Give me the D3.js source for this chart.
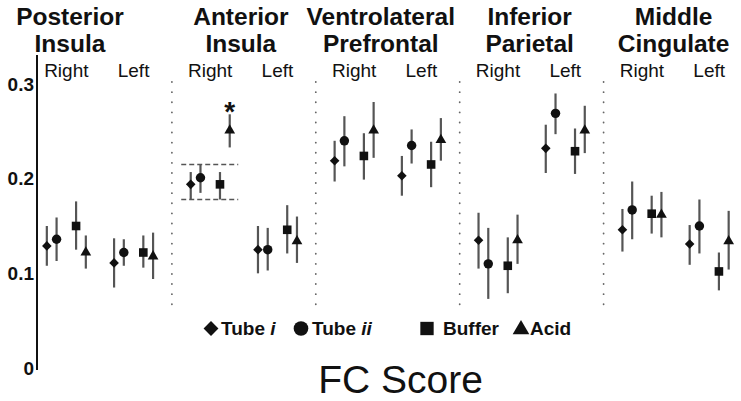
<!DOCTYPE html>
<html><head><meta charset="utf-8">
<script src="https://cdn.jsdelivr.net/npm/d3@7"></script>
<style>
html,body{margin:0;padding:0;background:#fff;}
svg{display:block;font-family:"Liberation Sans",Arial,sans-serif;}
</style></head>
<body><svg id="c" width="741" height="401"></svg>
<script>
// ---------- data ----------
const regions = ["Posterior Insula","Anterior Insula","Ventrolateral Prefrontal","Inferior Parietal","Middle Cingulate"];
const sides = ["Right","Left"];
const seriesNames = ["Tube i","Tube ii","Buffer","Acid"];
const yTicks = [0, 0.1, 0.2, 0.3];
const yTickLabels = ["0","0.1","0.2","0.3"];
// values ordered region-by-region: [Right, Left]
const tubeI    = [0.129,0.111, 0.194,0.125, 0.219,0.203, 0.135,0.232, 0.146,0.131];
const tubeILo  = [0.108,0.085, 0.178,0.100, 0.197,0.182, 0.105,0.206, 0.123,0.109];
const tubeIHi  = [0.150,0.137, 0.207,0.150, 0.240,0.224, 0.164,0.257, 0.168,0.151];
const tubeII   = [0.136,0.122, 0.201,0.125, 0.240,0.235, 0.110,0.269, 0.167,0.150];
const tubeIILo = [0.113,0.108, 0.185,0.103, 0.213,0.216, 0.073,0.247, 0.136,0.121];
const tubeIIHi = [0.159,0.136, 0.215,0.148, 0.266,0.252, 0.148,0.290, 0.197,0.178];
const buffer   = [0.150,0.122, 0.194,0.146, 0.224,0.215, 0.108,0.229, 0.163,0.102];
const bufferLo = [0.125,0.106, 0.178,0.121, 0.199,0.191, 0.079,0.205, 0.142,0.082];
const bufferHi = [0.176,0.140, 0.207,0.172, 0.248,0.239, 0.138,0.253, 0.182,0.122];
const acid     = [0.122,0.118, 0.251,0.134, 0.251,0.241, 0.135,0.251, 0.162,0.134];
const acidLo   = [0.105,0.094, 0.233,0.111, 0.222,0.219, 0.110,0.227, 0.138,0.104];
const acidHi   = [0.140,0.143, 0.268,0.160, 0.281,0.264, 0.162,0.277, 0.186,0.166];
const anteriorBand = [0.178, 0.215];   // dashed reference lines, Anterior Insula / Right
const significant = [{region:"Anterior Insula", side:"Right", series:"Acid"}];
const yTitle = "FC Score";

// ---------- build rows ----------
const seriesData = [
  {name:"Tube i",  mean:tubeI,  lo:tubeILo,  hi:tubeIHi,  shape:"diamond"},
  {name:"Tube ii", mean:tubeII, lo:tubeIILo, hi:tubeIIHi, shape:"circle"},
  {name:"Buffer",  mean:buffer, lo:bufferLo, hi:bufferHi, shape:"square"},
  {name:"Acid",    mean:acid,   lo:acidLo,   hi:acidHi,   shape:"triangle"}
];
const rows = [];
regions.forEach((r,ri)=>sides.forEach((s,si)=>seriesData.forEach(sd=>{
  const k = ri*2+si;
  rows.push({region:r, side:s, series:sd.name, shape:sd.shape, v:sd.mean[k], lo:sd.lo[k], hi:sd.hi[k]});
})));

// ---------- scales ----------
const svg = d3.select("#c");
const xPanel = d3.scaleBand().domain(regions).range([28, 747.5]).padding(0);
const xSide = d3.scalePoint().domain(sides).range([0, xPanel.bandwidth()]).padding(0.57);
const xMark = d3.scalePoint().domain(["Tube i","Tube ii","_gap","Buffer","Acid"]).range([-19.5, 19.5]);
const y = d3.scaleLinear().domain([0, 0.3]).range([368, 84]);
const px = d => xPanel(d.region) + xSide(d.side) + xMark(d.series);

const ink = "#111", barCol = "#555";

function symbolPath(shape, big){
  const f = big ? 1.55 : 1;
  if (shape==="circle")   return d3.symbol(d3.symbolCircle, 70*f*f)();
  if (shape==="square")   return d3.symbol(d3.symbolSquare, 74*f*f)();
  if (shape==="triangle") return d3.symbol(d3.symbolTriangle, 50*f*f)();
  return d3.symbol(d3.symbolSquare, 46*f*f)();
}

// ---------- axis ----------
svg.append("line").attr("x1",37).attr("x2",37).attr("y1",55).attr("y2",370)
  .attr("stroke",ink).attr("stroke-width",2);
const ax = svg.append("g").attr("transform","translate(37,0)")
  .call(d3.axisLeft(y).tickValues(yTicks).tickSize(0).tickPadding(3)
    .tickFormat((d,i)=>yTickLabels[i]));
ax.select(".domain").remove();
ax.selectAll("text").attr("font-size",19).attr("font-weight","bold")
  .attr("fill",ink).attr("font-family","Liberation Sans, Arial, sans-serif");

// ---------- separators ----------
svg.selectAll("line.sep").data(regions.slice(1)).join("line").attr("class","sep")
  .attr("x1",d=>xPanel(d)).attr("x2",d=>xPanel(d))
  .attr("y1",82).attr("y2",313)
  .attr("stroke","#666").attr("stroke-width",1.8)
  .attr("stroke-dasharray","0.1 10").attr("stroke-linecap","round");

// ---------- titles ----------
const titleShift = [-30,-3,-7,-2,-2];
regions.forEach((r,i)=>{
  const cx = xPanel(r) + xPanel.bandwidth()/2 + titleShift[i];
  r.split(" ").forEach((w,j)=>{
    svg.append("text").attr("x",cx).attr("y",25+j*27).attr("text-anchor","middle")
      .attr("font-size",24.5).attr("font-weight","bold").attr("fill",ink).text(w);
  });
  sides.forEach(s=>{
    svg.append("text").attr("x",xPanel(r)+xSide(s)).attr("y",77).attr("text-anchor","middle")
      .attr("font-size",19).attr("fill",ink).text(s);
  });
});

// ---------- anterior band ----------
const bandX0 = xPanel("Anterior Insula") + xSide("Right") - 29;
const bandX1 = xPanel("Anterior Insula") + xSide("Right") + 28;
svg.selectAll("line.band").data(anteriorBand).join("line").attr("class","band")
  .attr("x1",bandX0).attr("x2",bandX1).attr("y1",d=>y(d)).attr("y2",d=>y(d))
  .attr("stroke",barCol).attr("stroke-width",1.6).attr("stroke-dasharray","5 3");

// ---------- error bars & markers ----------
svg.selectAll("line.err").data(rows).join("line").attr("class","err")
  .attr("x1",px).attr("x2",px).attr("y1",d=>y(d.lo)).attr("y2",d=>y(d.hi))
  .attr("stroke",barCol).attr("stroke-width",2.2);
svg.selectAll("path.mk").data(rows).join("path").attr("class","mk")
  .attr("d",d=>symbolPath(d.shape,false))
  .attr("transform",d=>`translate(${px(d)},${y(d.v)})${d.shape==="diamond"?" rotate(45)":""}`)
  .attr("fill",ink);

// ---------- significance ----------
significant.forEach(s=>{
  const d = rows.find(r=>r.region===s.region && r.side===s.side && r.series===s.series);
  svg.append("text").attr("x",px(d)).attr("y",y(d.hi)+7).attr("text-anchor","middle")
    .attr("font-size",28).attr("font-weight","bold").attr("fill",ink).text("*");
});

// ---------- legend ----------
const legX = [211, 301, 427, 521];
const legTextGap = [10, 11, 16, 9];
seriesData.forEach((sd,i)=>{
  svg.append("path").attr("d",symbolPath(sd.shape,true))
    .attr("transform",`translate(${legX[i]},${sd.shape==="triangle"?329.5:328.5})${sd.shape==="diamond"?" rotate(45)":""}`)
    .attr("fill",ink);
  const parts = sd.name.split(" ");
  const t = svg.append("text").attr("x",legX[i]+legTextGap[i]).attr("y",335)
    .attr("font-size",19).attr("font-weight","bold").attr("fill",ink);
  t.append("tspan").text(parts[0]);
  if (parts[1]) t.append("tspan").attr("font-style","italic").text(" "+parts[1]);
});

// ---------- y title ----------
svg.append("text").attr("x",400.5).attr("y",393).attr("text-anchor","middle")
  .attr("font-size",39).attr("fill",ink).text(yTitle);
</script></body></html>
